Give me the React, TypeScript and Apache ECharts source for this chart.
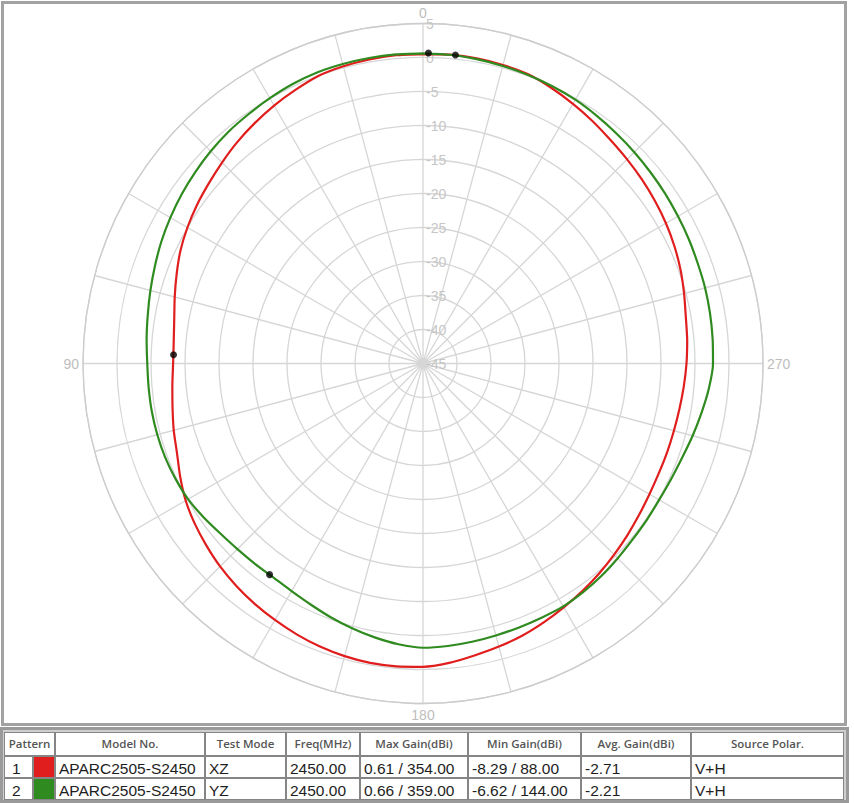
import React, { useEffect, useRef } from 'react';
import * as echarts from 'echarts';

// ---- data ----
// measurement angles, every 5 degrees from 0 to 360
const angleStep = 5;
const angles = Array.from({ length: 73 }, (_, i) => i * angleStep);

// Pattern 1, XZ (red), gain in dBi
const xzGain = [
  0.5, 0.5, 0.4, 0.25, 0.0, -0.6, -1.2, -1.85, -2.5, -3.2, -3.85, -4.4, -5.0, -5.65, -6.45, -7.2, -7.85, -8.2,
  -8.25, -8.0, -7.6, -7.05, -6.5, -5.6, -4.7, -4.0, -3.4, -2.8, -2.3, -1.85, -1.45, -1.05, -0.7, -0.45, -0.3, -0.3,
  -0.4, -0.8, -1.4, -1.9, -2.4, -3.0, -3.6, -4.15, -4.7, -5.25, -5.75, -6.2, -6.55, -6.75, -6.8, -6.8, -6.7, -6.5,
  -6.25, -6.0, -5.75, -5.25, -4.7, -4.2, -3.75, -3.35, -2.95, -2.55, -2.1, -1.5, -0.9, -0.3, 0.25, 0.45, 0.58, 0.6,
  0.5,
];

// Pattern 2, YZ (green), gain in dBi
const yzGain = [
  0.62, 0.63, 0.62, 0.6, 0.55, 0.35, 0.05, -0.25, -0.5, -0.85, -1.25, -1.65, -2.1, -2.55, -3.05, -3.5, -3.9, -4.2,
  -4.45, -4.5, -4.5, -4.55, -4.65, -4.85, -5.1, -5.6, -6.1, -6.4, -6.55, -6.6, -6.35, -5.9, -5.3, -4.7, -4.1, -3.55,
  -3.2, -3.3, -3.45, -3.6, -3.7, -3.75, -3.75, -3.95, -4.2, -4.5, -4.75, -4.85, -4.9, -4.75, -4.45, -3.95, -3.4, -2.8,
  -2.35, -2.25, -2.15, -2.05, -2.0, -1.85, -1.7, -1.5, -1.3, -1.05, -0.8, -0.5, -0.2, 0.0, 0.15, 0.3, 0.45, 0.58,
  0.62,
];

// [gain, angle] extremes from the table
const xzMax = [0.61, 354];
const xzMin = [-8.29, 88];
const yzMax = [0.66, 359];
const yzMin = [-6.62, 144];

const angleLabels = [0, 90, 180, 270];

// table
const headers = ['Pattern', 'Model No.', 'Test Mode', 'Freq(MHz)', 'Max Gain(dBi)', 'Min Gain(dBi)', 'Avg. Gain(dBi)', 'Source Polar.'];
const patternIds = ['1', '2'];
const modelNos = ['APARC2505-S2450', 'APARC2505-S2450'];
const testModes = ['XZ', 'YZ'];
const freqs = [2450.0, 2450.0];
const avgGains = [-2.71, -2.21];
const polars = ['V+H', 'V+H'];

const RED = '#e01e1e';
const GREEN = '#2f8a1f';

function fmt(v: number) {
  return v.toFixed(2);
}

export default function App() {
  const ref = useRef<HTMLDivElement>(null);

  useEffect(() => {
    document.body.style.margin = '0';
    const chart = echarts.init(ref.current!, null, { renderer: 'svg' });

    const maxes = [xzMax, yzMax];
    const mins = [xzMin, yzMin];
    const colors = [RED, GREEN];

    // column edges
    const colX = [4, 33, 55, 205, 286, 360, 468, 581, 691, 844];
    const rowY = [732, 756, 778, 800];
    const cellFont = '15.5px "Liberation Sans Narrow", "Liberation Sans", Arial, sans-serif';
    const headFont = '600 11.5px "Open Sans", "Noto Sans", sans-serif';

    const g: any[] = [];
    // chart frame
    g.push({
      type: 'rect', shape: { x: 2.5, y: 2.5, width: 843, height: 722 },
      style: { fill: 'none', stroke: '#a2a2a2', lineWidth: 3 }, silent: true, z: 100,
    });
    // table panel
    g.push({
      type: 'rect', shape: { x: 1.5, y: 728.5, width: 846, height: 73 },
      style: { fill: '#cfcfcf', stroke: '#9a9a9a', lineWidth: 3 }, silent: true, z: 100,
    });
    g.push({
      type: 'rect', shape: { x: colX[0], y: rowY[0], width: colX[9] - colX[0], height: rowY[3] - rowY[0] },
      style: { fill: '#858585' }, silent: true, z: 101,
    });
    // header cells
    const headEdges = [colX[0], colX[2], colX[3], colX[4], colX[5], colX[6], colX[7], colX[8], colX[9]];
    headers.forEach((h, i) => {
      const x0 = headEdges[i] + 1;
      const x1 = headEdges[i + 1] - 1;
      g.push({
        type: 'rect', shape: { x: x0, y: rowY[0] + 1, width: x1 - x0, height: rowY[1] - rowY[0] - 2 },
        style: { fill: '#ffffff' }, silent: true, z: 102,
      });
      g.push({
        type: 'text', x: (x0 + x1) / 2, y: (rowY[0] + rowY[1]) / 2 - 1,
        style: { text: h, font: headFont, fill: '#555555', align: 'center', verticalAlign: 'middle' },
        silent: true, z: 103,
      });
    });
    // data rows
    patternIds.forEach((pid, r) => {
      const y0 = rowY[r + 1] + 1;
      const y1 = rowY[r + 2] - 1;
      const texts = [
        pid, '', modelNos[r], testModes[r], fmt(freqs[r]),
        `${fmt(maxes[r][0])} / ${fmt(maxes[r][1])}`,
        `${fmt(mins[r][0])} / ${fmt(mins[r][1])}`,
        fmt(avgGains[r]), polars[r],
      ];
      for (let c = 0; c < 9; c++) {
        const x0 = colX[c] + 1;
        const x1 = colX[c + 1] - 1;
        g.push({
          type: 'rect', shape: { x: x0, y: y0, width: x1 - x0, height: y1 - y0 },
          style: { fill: c === 1 ? colors[r] : '#ffffff' }, silent: true, z: 102,
        });
        if (texts[c]) {
          g.push({
            type: 'text', x: c === 0 ? x0 + 7 : x0 + 3, y: (y0 + y1) / 2 + 1,
            style: { text: texts[c], font: cellFont, fill: '#1e1e1e', align: 'left', verticalAlign: 'middle' },
            silent: true, z: 103,
          });
        }
      }
    });

    chart.setOption({
      animation: false,
      backgroundColor: '#ffffff',
      polar: { center: [423, 363.5], radius: 340 },
      angleAxis: {
        type: 'value', min: 0, max: 360, interval: 15, startAngle: 90, clockwise: false,
        axisLine: { show: true, lineStyle: { color: '#cdcdcd', width: 1.3 } },
        axisTick: { show: false },
        axisLabel: {
          formatter: (v: number) => (angleLabels.includes(v) ? String(v) : ''),
          color: '#bdbdbd', fontSize: 14, margin: 4, fontFamily: 'Liberation Sans, Arial, sans-serif',
        },
        splitLine: { show: true, lineStyle: { color: '#d6d6d6', width: 1.3 } },
      },
      radiusAxis: {
        type: 'value', min: -45, max: 5, interval: 5,
        axisLine: { show: false }, axisTick: { show: false },
        axisLabel: {
          color: '#c6c6c6', fontSize: 14, margin: -3, align: 'left', padding: [9, 0, 0, 0],
          fontFamily: 'Liberation Sans, Arial, sans-serif',
        },
        splitLine: { show: true, lineStyle: { color: '#d6d6d6', width: 1.3 } },
      },
      graphic: g,
      series: [
        {
          name: 'XZ', type: 'line', coordinateSystem: 'polar', showSymbol: false, smooth: 0.2,
          data: angles.map((a, i) => [xzGain[i], a]),
          lineStyle: { color: RED, width: 2.2 }, itemStyle: { color: RED }, z: 3,
        },
        {
          name: 'YZ', type: 'line', coordinateSystem: 'polar', showSymbol: false, smooth: 0.2,
          data: angles.map((a, i) => [yzGain[i], a]),
          lineStyle: { color: GREEN, width: 2.2 }, itemStyle: { color: GREEN }, z: 4,
        },
        {
          name: 'markers', type: 'scatter', coordinateSystem: 'polar', symbolSize: 7,
          data: [xzMax, xzMin, yzMax, yzMin],
          itemStyle: { color: '#000000' }, z: 5,
        },
      ],
    });
    return () => chart.dispose();
  }, []);

  return <div ref={ref} style={{ position: 'absolute', left: 0, top: 0, width: 854, height: 803 }} />;
}
